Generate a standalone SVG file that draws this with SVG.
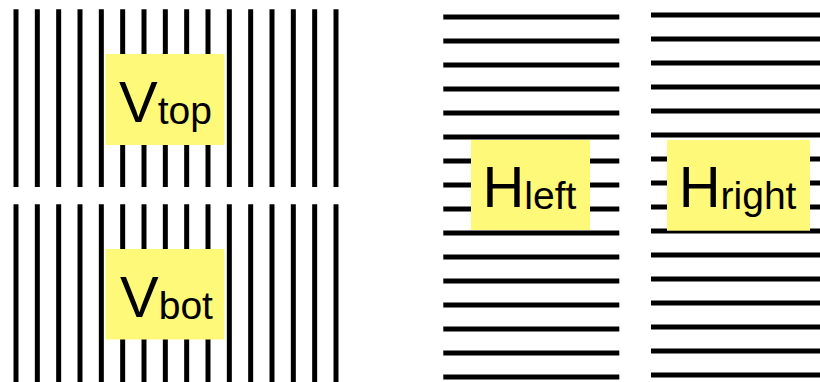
<svg xmlns="http://www.w3.org/2000/svg" width="820" height="382" viewBox="0 0 820 382">
<style>
.ln{stroke:#000;stroke-width:5;fill:none}
.box{fill:#fff97a;stroke:none}
.big{font-family:"Liberation Sans",Arial,sans-serif;font-size:58px;fill:#000}
.sub{font-size:39px}
</style>
<defs>
<g id="vcol"><path class="ln" d="M16 9.3V187M37.33 9.3V187M58.67 9.3V187M80 9.3V187M101.33 9.3V187M122.67 9.3V187M144 9.3V187M165.33 9.3V187M186.67 9.3V187M208 9.3V187M229.33 9.3V187M250.67 9.3V187M272 9.3V187M293.33 9.3V187M314.67 9.3V187M336 9.3V187"/></g>
<g id="hrow"><path class="ln" d="M0 17h176M0 41h176M0 65h176M0 89h176M0 113h176M0 137h176M0 161h176M0 185h176M0 209h176M0 233h176M0 257h176M0 281h176M0 305h176M0 329h176M0 353h176M0 377h176"/></g>
</defs>
<g id="lines">
<use href="#vcol"/>
<use href="#vcol" transform="translate(0,195)"/>
<use href="#hrow" transform="translate(443.3,0)"/>
<use href="#hrow" transform="translate(651,-2)"/>
</g>
<g id="Vtop">
<rect class="box" x="105.5" y="54" width="119" height="91"/>
<text class="big" x="119" y="121.7">V<tspan class="sub" dy="2.5">top</tspan></text>
</g>
<g id="Vbot">
<rect class="box" x="105.5" y="249" width="119" height="90.5"/>
<text class="big" x="120" y="316.7">V<tspan class="sub" dy="2.5">bot</tspan></text>
</g>
<g id="Hleft">
<rect class="box" x="471" y="140" width="119" height="90"/>
<text class="big" x="482.4" y="206.7">H<tspan class="sub" dy="2">left</tspan></text>
</g>
<g id="Hright">
<rect class="box" x="667" y="140" width="143" height="90.7"/>
<text class="big" x="678.7" y="206.7">H<tspan class="sub" dy="2">right</tspan></text>
</g>
</svg>
